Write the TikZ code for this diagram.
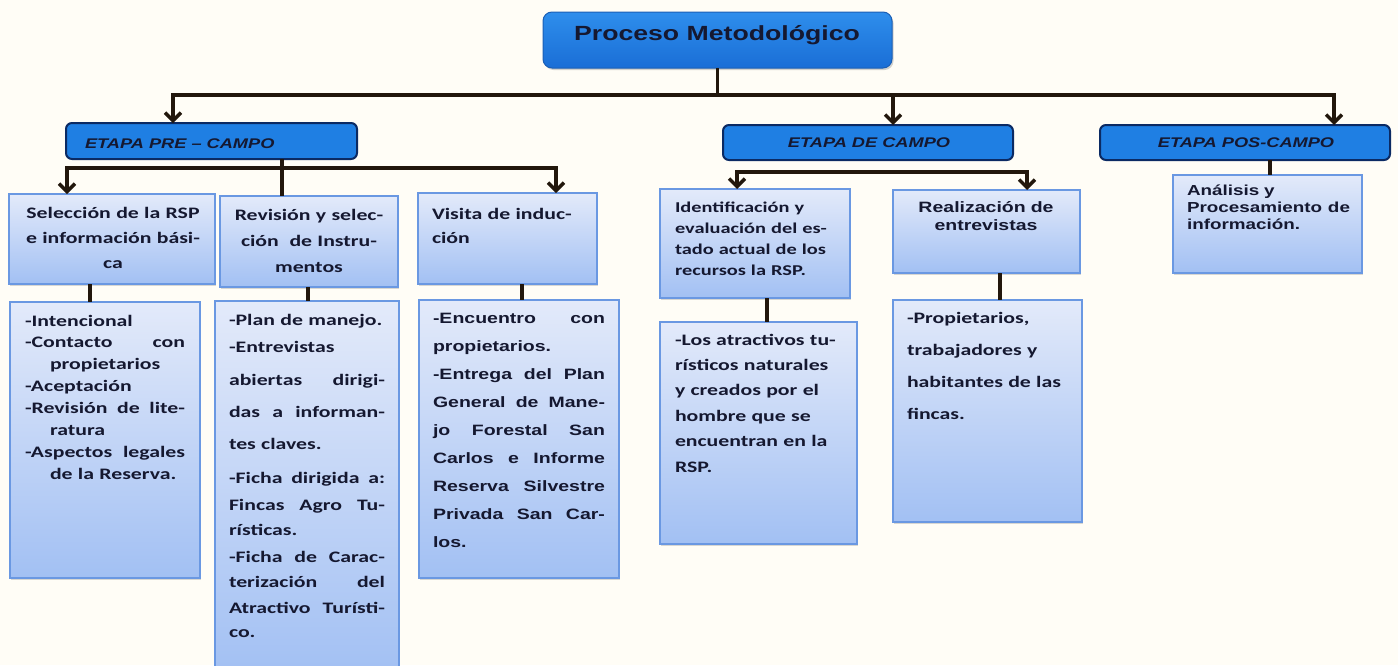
\documentclass[tikz,border=0pt]{standalone}
\usepackage{fontspec}
\setmainfont{Carlito}[FakeStretch=1.36]
\newfontfamily\ar{Liberation Sans}[FakeStretch=1.3]
\usetikzlibrary{arrows.meta,shadows,calc}
\definecolor{bg}{HTML}{FFFDF6}
\definecolor{lbtop}{HTML}{E3EAFA}
\definecolor{lbbot}{HTML}{A2C0F3}
\definecolor{lbdraw}{HTML}{6A98E2}
\definecolor{dbfill}{HTML}{1F7FE3}
\definecolor{dbdraw}{HTML}{0B2A63}
\definecolor{ttop}{HTML}{2E8EEC}
\definecolor{tbot}{HTML}{1A6ED6}
\definecolor{tdraw}{HTML}{1B5FB5}
\definecolor{conc}{HTML}{22170C}
\definecolor{txtc}{HTML}{151830}
\tikzset{
  lbox/.style={draw=lbdraw, line width=1.2pt, top color=lbtop, bottom color=lbbot,
    anchor=north west, inner sep=0pt, outer sep=0pt,
    drop shadow={shadow xshift=1pt, shadow yshift=-1.5pt, opacity=.3}},
  dbox/.style={draw=dbdraw, line width=2pt, fill=dbfill, rounded corners=6pt,
    anchor=north west, inner sep=0pt, outer sep=0pt},
  tbox/.style={draw=tdraw, line width=1pt, top color=ttop, bottom color=tbot, rounded corners=9pt,
    anchor=north west, inner sep=0pt, outer sep=0pt,
    drop shadow={shadow xshift=1.5pt, shadow yshift=-2pt, opacity=.35}},
  txt/.style={inner sep=0pt, outer sep=0pt, text=txtc, anchor=base west, align=left},
  conn/.style={draw=conc, line width=3.4pt},
  arr/.style={conn, -{Straight Barb[length=8pt,width=16pt]}},
}
\begin{document}
\begin{tikzpicture}[x=1pt,y=-1pt]
\useasboundingbox[fill=bg] (0,0) rectangle (1398,665);

% ---------- top level boxes
\node[tbox, minimum width=349pt, minimum height=56pt] (T) at (543,12) {};
\node[txt, anchor=base, font=\ar\bfseries\fontsize{20.5}{24}\selectfont] (Tt) at (717,40) {Proceso Metodológico};

\node[dbox, minimum width=291pt, minimum height=36pt] (Pre) at (66,123) {};
\node[txt, font=\ar\bfseries\itshape\fontsize{14}{16}\selectfont] (Pret) at (85,148) {ETAPA PRE – CAMPO};

\node[dbox, minimum width=290pt, minimum height=35pt] (Campo) at (723,125) {};
\node[txt, anchor=base, font=\ar\bfseries\itshape\fontsize{14}{16}\selectfont] (Campot) at (869,147) {ETAPA DE CAMPO};

\node[dbox, minimum width=290pt, minimum height=35pt] (Pos) at (1100,125) {};
\node[txt, anchor=base, font=\ar\bfseries\itshape\fontsize{14}{16}\selectfont] (Post) at (1246,147) {ETAPA POS-CAMPO};

% ---------- second level boxes
\node[lbox, minimum width=206pt, minimum height=90pt] (A) at (9,194) {};
\node[txt, anchor=base, align=center, text width=200pt, font=\bfseries\fontsize{16}{25}\selectfont] (At) at (113,218)
  {Selección de la RSP\\ e información bási-\\ ca};

\node[lbox, minimum width=178pt, minimum height=91pt] (B) at (220,196) {};
\node[txt, anchor=base, align=center, text width=175pt, font=\bfseries\fontsize{16}{26}\selectfont] (Bt) at (309,220)
  {Revisión y selec-\\ ción~~de Instru-\\ mentos};

\node[lbox, minimum width=179pt, minimum height=91pt] (C) at (418,193) {};
\node[txt, text width=165pt, font=\bfseries\fontsize{16}{24}\selectfont] (Ct) at (432,219)
  {Visita de induc-\\ción};

\node[lbox, minimum width=190pt, minimum height=109pt] (D) at (660,189) {};
\node[txt, text width=172pt, font=\bfseries\fontsize{15}{21}\selectfont] (Dt) at (675,212)
  {Identificación y\\ evaluación del es-\\ tado actual de los\\ recursos la RSP.};

\node[lbox, minimum width=187pt, minimum height=83pt] (E) at (893,190) {};
\node[txt, anchor=base, align=center, text width=180pt, font=\ar\bfseries\fontsize{15}{18.5}\selectfont] (Et) at (986,212)
  {Realización de\\ entrevistas};

\node[lbox, minimum width=189pt, minimum height=98pt] (F) at (1173,175) {};
\node[txt, text width=163pt, font=\ar\bfseries\fontsize{14.5}{17}\selectfont] (Ft) at (1187,195)
  {Análisis y\\ Procesamiento\hfill de\\ información.};

% ---------- third level boxes
\node[lbox, minimum width=190pt, minimum height=276pt] (A2) at (10,302) {};
\node[txt, text width=160pt, font=\bfseries\fontsize{16}{21.9}\selectfont] (A2t) at (25,326)
  {-Intencional\\
   -Contacto\hfill con\\
   \hspace*{25pt}propietarios\\
   -Aceptación\\
   -Revisión\hfill de\hfill lite-\\
   \hspace*{25pt}ratura\\
   -Aspectos\hfill legales\\
   \hspace*{25pt}de la Reserva.};

\node[lbox, minimum width=184pt, minimum height=375pt] (B2) at (215,301) {};
\node[txt, text width=156pt, font=\bfseries\fontsize{16}{25}\selectfont] (B2t) at (229,325)
  {-Plan de manejo.\\[2pt]
   -Entrevistas\\[8pt]
   abiertas\hfill dirigi-\\[7pt]
   das\hfill a\hfill informan-\\[7pt]
   tes claves.\\[9pt]
   -Ficha\hfill dirigida\hfill a:\\[2pt]
   Fincas\hfill Agro\hfill Tu-\\
   rísticas.\\[2pt]
   -Ficha\hfill de\hfill Carac-\\
   terización\hfill del\\[1pt]
   Atractivo\hfill Turísti-\\[-1pt]
   co.};

\node[lbox, minimum width=200pt, minimum height=278pt] (C2) at (419,300) {};
\node[txt, text width=172pt, font=\ar\bfseries\fontsize{15}{28}\selectfont] (C2t) at (433,323)
  {-Encuentro\hfill con\\
   propietarios.\\
   -Entrega\hfill del\hfill Plan\\
   General\hfill de\hfill Mane-\\
   jo\hfill Forestal\hfill San\\
   Carlos\hfill e\hfill Informe\\
   Reserva\hfill Silvestre\\
   Privada\hfill San\hfill Car-\\
   los.};

\node[lbox, minimum width=197pt, minimum height=222pt] (D2) at (660,322) {};
\node[txt, text width=175pt, font=\bfseries\fontsize{16}{25.4}\selectfont] (D2t) at (675,345)
  {-Los atractivos tu-\\
   rísticos naturales\\
   y creados por el\\
   hombre que se\\
   encuentran en la\\
   RSP.};

\node[lbox, minimum width=189pt, minimum height=222pt] (E2) at (893,300) {};
\node[txt, text width=170pt, font=\bfseries\fontsize{16}{32.3}\selectfont] (E2t) at (907,323)
  {-Propietarios,\\
   trabajadores y\\
   habitantes de las\\
   fincas.};

% ---------- connectors, top level
\coordinate (j0) at ($(T.south)+(0,27)$);
\draw[conn] (T.south) -- (j0);
\draw[arr] (j0) -| ($(Pre.north west)+(107,0)$);
\draw[arr] (j0) -| ($(Campo.north west)+(170,0)$);
\draw[arr] (j0) -| ($(Pos.north west)+(234,0)$);

% pre-campo
\coordinate (p1) at ($(Pre.south west)+(216,0)$);
\coordinate (p0) at ($(Pre.south west)+(216,9)$);
\draw[conn] (p1) -- (p0 |- B.north);
\draw[arr] (p0) -| ($(A.north west)+(58,0)$);
\draw[arr] (p0) -| ($(C.north west)+(138,0)$);

% campo
\coordinate (c0) at ($(Campo.south west)+(145,12)$);
\draw[arr] (c0) -| ($(D.north west)+(77,0)$);
\draw[arr] (c0) -| ($(E.north west)+(134,0)$);

% pos-campo
\coordinate (f0) at ($(Pos.south west)+(170,0)$);
\draw[conn] (f0) -- (f0 |- F.north);

% second to third level
\coordinate (a1) at ($(A.south west)+(81,0)$);
\draw[conn] (a1) -- (a1 |- A2.north);
\coordinate (b1) at ($(B.south west)+(88,0)$);
\draw[conn] (b1) -- (b1 |- B2.north);
\coordinate (cc1) at ($(C.south west)+(104,0)$);
\draw[conn] (cc1) -- (cc1 |- C2.north);
\coordinate (d1) at ($(D.south west)+(107,0)$);
\draw[conn] (d1) -- (d1 |- D2.north);
\coordinate (e1) at ($(E.south west)+(107,0)$);
\draw[conn] (e1) -- (e1 |- E2.north);
\end{tikzpicture}
\end{document}
